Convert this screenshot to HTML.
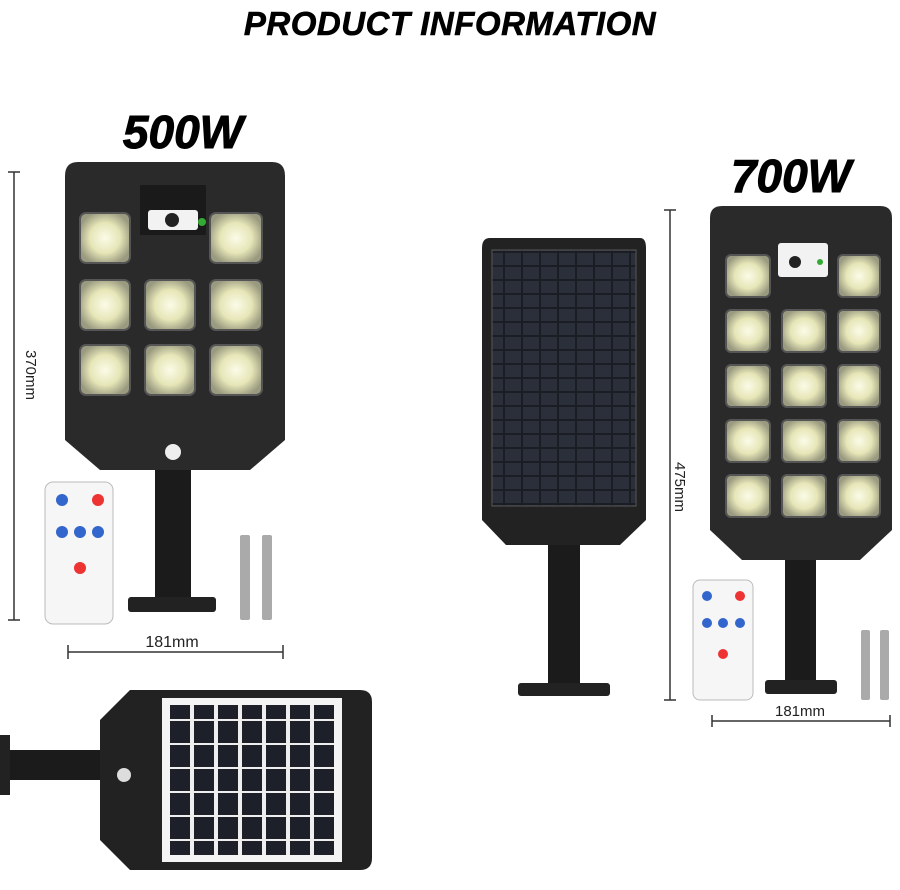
<!DOCTYPE html>
<html><head><meta charset="utf-8"><style>
html,body{margin:0;padding:0;background:#fff;width:900px;height:890px;overflow:hidden}
svg{display:block}
text{font-family:"Liberation Sans",sans-serif}
</style></head><body>
<svg width="900" height="890" viewBox="0 0 900 890" xmlns="http://www.w3.org/2000/svg">
<defs>
<radialGradient id="led" cx="50%" cy="50%" r="55%">
<stop offset="0" stop-color="#fbfbe8"/><stop offset="0.55" stop-color="#e6e6b8"/><stop offset="1" stop-color="#9a9a80"/>
</radialGradient>
<pattern id="cells" width="18" height="14" patternUnits="userSpaceOnUse">
<rect width="18" height="14" fill="#1a1d24"/><rect x="1" y="1" width="16" height="12" fill="#2a2f3a"/>
</pattern>
<pattern id="cells2" width="24" height="24" patternUnits="userSpaceOnUse">
<rect width="24" height="24" fill="#eee"/><rect x="2" y="1" width="20" height="22" fill="#1d2029"/>
</pattern>
</defs>

<text x="450" y="35" font-size="33" font-weight="bold" font-style="italic" text-anchor="middle" fill="#000" letter-spacing="0.5" stroke="#000" stroke-width="0.6">PRODUCT INFORMATION</text>

<!-- 500W -->
<text x="183" y="148" font-size="46" font-weight="bold" font-style="italic" text-anchor="middle" fill="#000" stroke="#000" stroke-width="1">500W</text>
<rect x="155" y="400" width="36" height="200" fill="#1b1b1b"/>
<rect x="128" y="597" width="88" height="15" rx="3" fill="#222"/>
<path d="M78 162 H272 Q285 162 285 176 V440 L250 470 H100 L65 440 V176 Q65 162 78 162Z" fill="#2a2a2a"/>
<rect x="140" y="185" width="66" height="50" fill="#1a1a1a"/>
<rect x="148" y="210" width="50" height="20" rx="3" fill="#f2f2f2"/>
<circle cx="172" cy="220" r="7" fill="#222"/><circle cx="202" cy="222" r="4" fill="#3a3"/>
<g fill="url(#led)" stroke="#555" stroke-width="2">
<rect x="80" y="213" width="50" height="50" rx="6"/><rect x="210" y="213" width="52" height="50" rx="6"/>
<rect x="80" y="280" width="50" height="50" rx="6"/><rect x="145" y="280" width="50" height="50" rx="6"/><rect x="210" y="280" width="52" height="50" rx="6"/>
<rect x="80" y="345" width="50" height="50" rx="6"/><rect x="145" y="345" width="50" height="50" rx="6"/><rect x="210" y="345" width="52" height="50" rx="6"/>
</g>
<circle cx="173" cy="452" r="8" fill="#eee"/>
<line x1="14" y1="172" x2="14" y2="620" stroke="#333" stroke-width="1.5"/>
<line x1="8" y1="172" x2="20" y2="172" stroke="#333" stroke-width="1.5"/>
<line x1="8" y1="620" x2="20" y2="620" stroke="#333" stroke-width="1.5"/>
<text x="0" y="0" font-size="15" fill="#222" transform="translate(26 350) rotate(90)">370mm</text>
<rect x="45" y="482" width="68" height="142" rx="8" fill="#f6f6f6" stroke="#bbb"/>
<circle cx="62" cy="500" r="6" fill="#36c"/><circle cx="98" cy="500" r="6" fill="#e33"/>
<circle cx="62" cy="532" r="6" fill="#36c"/><circle cx="80" cy="532" r="6" fill="#36c"/><circle cx="98" cy="532" r="6" fill="#36c"/>
<circle cx="80" cy="568" r="6" fill="#e33"/>
<g fill="#aaa"><rect x="240" y="535" width="10" height="85" rx="2"/><rect x="262" y="535" width="10" height="85" rx="2"/></g>
<line x1="68" y1="652" x2="283" y2="652" stroke="#333" stroke-width="1.5"/>
<line x1="68" y1="645" x2="68" y2="659" stroke="#333" stroke-width="1.5"/>
<line x1="283" y1="645" x2="283" y2="659" stroke="#333" stroke-width="1.5"/>
<text x="172" y="647" font-size="16" text-anchor="middle" fill="#222" font-family="Liberation Serif">181mm</text>

<!-- middle panel -->
<rect x="548" y="540" width="32" height="146" fill="#1b1b1b"/>
<rect x="518" y="683" width="92" height="13" rx="3" fill="#222"/>
<path d="M490 238 H640 Q646 238 646 248 V520 L620 545 H506 L482 520 V248 Q482 238 490 238Z" fill="#222"/>
<rect x="492" y="250" width="144" height="256" fill="url(#cells)" stroke="#555"/>

<!-- 700W -->
<text x="791" y="192" font-size="46" font-weight="bold" font-style="italic" text-anchor="middle" fill="#000" stroke="#000" stroke-width="1">700W</text>
<rect x="785" y="525" width="31" height="160" fill="#1b1b1b"/>
<rect x="765" y="680" width="72" height="14" rx="3" fill="#222"/>
<path d="M722 206 H880 Q892 206 892 218 V530 L860 560 H742 L710 530 V218 Q710 206 722 206Z" fill="#2a2a2a"/>
<rect x="778" y="243" width="50" height="34" rx="3" fill="#f2f2f2"/>
<circle cx="795" cy="262" r="6" fill="#222"/><circle cx="820" cy="262" r="3" fill="#3a3"/>
<g fill="url(#led)" stroke="#555" stroke-width="2">
<rect x="726" y="255" width="44" height="42" rx="5"/><rect x="838" y="255" width="42" height="42" rx="5"/>
<rect x="726" y="310" width="44" height="42" rx="5"/><rect x="782" y="310" width="44" height="42" rx="5"/><rect x="838" y="310" width="42" height="42" rx="5"/>
<rect x="726" y="365" width="44" height="42" rx="5"/><rect x="782" y="365" width="44" height="42" rx="5"/><rect x="838" y="365" width="42" height="42" rx="5"/>
<rect x="726" y="420" width="44" height="42" rx="5"/><rect x="782" y="420" width="44" height="42" rx="5"/><rect x="838" y="420" width="42" height="42" rx="5"/>
<rect x="726" y="475" width="44" height="42" rx="5"/><rect x="782" y="475" width="44" height="42" rx="5"/><rect x="838" y="475" width="42" height="42" rx="5"/>
</g>
<line x1="670" y1="210" x2="670" y2="700" stroke="#333" stroke-width="1.5"/>
<line x1="664" y1="210" x2="676" y2="210" stroke="#333" stroke-width="1.5"/>
<line x1="664" y1="700" x2="676" y2="700" stroke="#333" stroke-width="1.5"/>
<text x="0" y="0" font-size="15" fill="#222" transform="translate(675 462) rotate(90)">475mm</text>
<rect x="693" y="580" width="60" height="120" rx="7" fill="#f6f6f6" stroke="#bbb"/>
<circle cx="707" cy="596" r="5" fill="#36c"/><circle cx="740" cy="596" r="5" fill="#e33"/>
<circle cx="707" cy="623" r="5" fill="#36c"/><circle cx="723" cy="623" r="5" fill="#36c"/><circle cx="740" cy="623" r="5" fill="#36c"/>
<circle cx="723" cy="654" r="5" fill="#e33"/>
<g fill="#aaa"><rect x="861" y="630" width="9" height="70" rx="2"/><rect x="880" y="630" width="9" height="70" rx="2"/></g>
<line x1="712" y1="721" x2="890" y2="721" stroke="#333" stroke-width="1.5"/>
<line x1="712" y1="715" x2="712" y2="727" stroke="#333" stroke-width="1.5"/>
<line x1="890" y1="715" x2="890" y2="727" stroke="#333" stroke-width="1.5"/>
<text x="800" y="716" font-size="15" text-anchor="middle" fill="#222" font-family="Liberation Serif">181mm</text>

<!-- bottom back view -->
<rect x="0" y="750" width="130" height="30" fill="#1b1b1b"/>
<rect x="0" y="735" width="10" height="60" fill="#222"/>
<path d="M130 690 H360 Q372 690 372 702 V858 Q372 870 360 870 H130 L100 840 V720Z" fill="#222"/>
<rect x="162" y="698" width="180" height="164" fill="#f4f4f4"/>
<rect x="170" y="705" width="164" height="150" fill="url(#cells2)"/>
<circle cx="124" cy="775" r="7" fill="#ddd"/>
</svg>
</body></html>
